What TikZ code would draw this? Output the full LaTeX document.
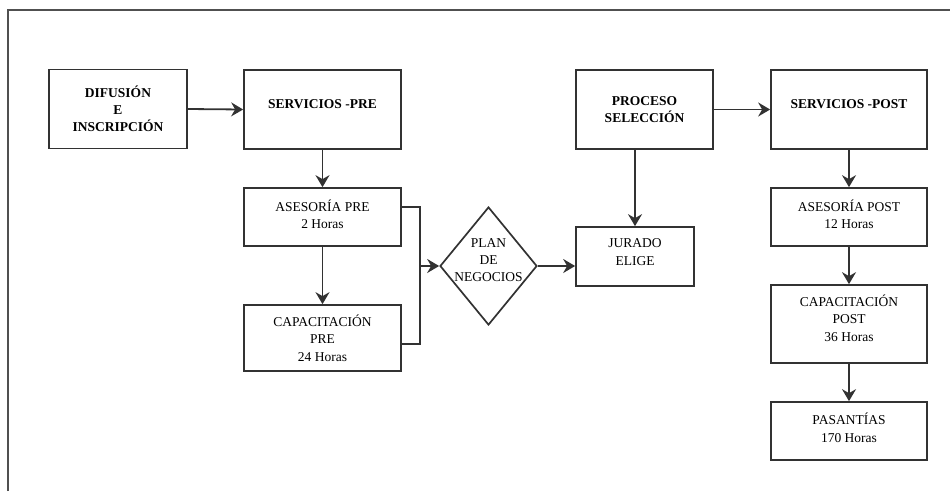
\documentclass[tikz,border=0pt]{standalone}
\usepackage{fontspec}
\setmainfont{Liberation Serif}
\usetikzlibrary{arrows.meta,shapes.geometric}
\definecolor{ln}{RGB}{50,50,50}
\definecolor{fr}{RGB}{80,80,80}
\tikzset{
  box/.style={draw=ln, line width=1.7pt, rectangle, inner sep=0pt, align=center,
    font=\fontsize{13.5}{17.5}\selectfont},
  bbox/.style={box, font=\fontsize{13.5}{17}\selectfont\bfseries},
  arr/.style={draw=ln, line width=1.8pt, -{Stealth[length=12pt,width=14pt,inset=4pt]}},
  con/.style={draw=ln, line width=1.8pt},
  lbl/.style={inner sep=0pt, align=center, font=\fontsize{13.5}{17}\selectfont}
}
\begin{document}
\begin{tikzpicture}[x=1pt,y=-1pt]
\useasboundingbox (0,0) rectangle (950,491);
% frame
\coordinate (f1) at (8,491);
\coordinate (f2) at (8,10);
\coordinate (f3) at (950,10);
\draw[fr, line width=1.8pt] (f1) -- (f2) -- (f3);
% nodes
\node[bbox, minimum width=138pt, minimum height=79pt] (dif) at (118,109) {DIFUSIÓN\\E\\INSCRIPCIÓN};
\node[bbox, minimum width=157pt, minimum height=79pt] (spre) at (322.5,109.5) {SERVICIOS -PRE\\[-7pt]};
\node[box, minimum width=157pt, minimum height=58pt] (ase) at (322.5,217) {ASESORÍA PRE\\2 Horas\\[-11.5pt]};
\node[box, minimum width=157pt, minimum height=66pt] (cap) at (322.5,338) {CAPACITACIÓN\\PRE\\24 Horas};
\node[draw=ln, line width=1.7pt, diamond, minimum width=97pt, minimum height=118pt, inner sep=0pt] (dia) at (488.5,266) {};
\node[lbl] (diat) at (488.5,260) {PLAN\\DE\\NEGOCIOS};
\node[box, minimum width=118pt, minimum height=59pt] (jur) at (635,256.5) {JURADO\\ELIGE\\[-8.5pt]};
\node[bbox, minimum width=137pt, minimum height=79pt] (proc) at (644.5,109.5) {PROCESO\\SELECCIÓN};
\node[bbox, minimum width=156pt, minimum height=79pt] (spost) at (849,109.5) {SERVICIOS -POST\\[-7pt]};
\node[box, minimum width=156pt, minimum height=58pt] (apost) at (849,217) {ASESORÍA POST\\12 Horas\\[-11.5pt]};
\node[box, minimum width=156pt, minimum height=78pt] (cpost) at (849,324) {CAPACITACIÓN\\POST\\36 Horas\\[-5.5pt]};
\node[box, minimum width=156pt, minimum height=58pt] (pas) at (849,431) {PASANTÍAS\\170 Horas\\[-10.5pt]};
% connectors
\coordinate (j) at (420,266);
\draw[arr] (dif.east) -- (spre.west);
\draw[arr] (spre.south) -- (ase.north);
\draw[arr] (ase.south) -- (cap.north);
\draw[con] ([yshift=10pt]ase.east) -| (j) |- ([yshift=-6pt]cap.east);
\draw[arr] (j) -- (dia.west);
\draw[arr] (dia.east) -- (dia.east -| jur.west);
\draw[arr] (jur.north |- proc.south) -- (jur.north);
\draw[arr] (proc.east) -- (spost.west);
\draw[arr] (spost.south) -- (apost.north);
\draw[arr] (apost.south) -- (cpost.north);
\draw[arr] (cpost.south) -- (pas.north);
\end{tikzpicture}
\end{document}
